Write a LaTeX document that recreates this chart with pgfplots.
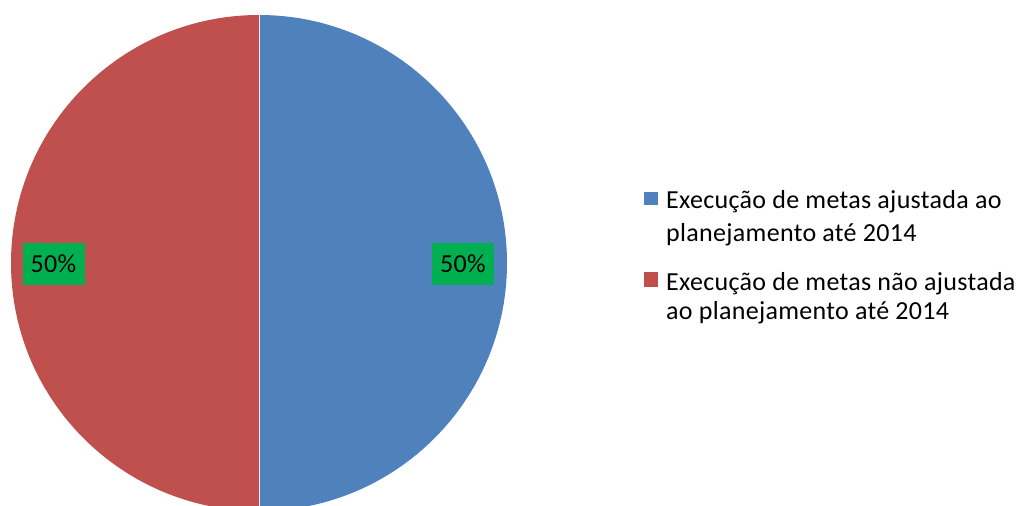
\documentclass[border=0pt]{standalone}
\usepackage{pgfplots}
\usepackage{pgfplotstable}
\pgfplotsset{compat=1.18}
\usepackage{fontspec}
\setmainfont{Carlito}[LetterSpace=1.2]
\definecolor{cblue}{HTML}{4F81BD}
\definecolor{cred}{HTML}{C0504D}
\definecolor{cgreen}{HTML}{00B050}
\pgfplotstableread{
label value
A 50
B 50
}\piedata
\begin{document}
\begin{tikzpicture}
\pgfplotstablegetelem{0}{value}\of\piedata \let\va\pgfplotsretval
\pgfplotstablegetelem{1}{value}\of\piedata \let\vb\pgfplotsretval
\pgfmathsetmacro{\tot}{\va+\vb}
\pgfmathsetmacro{\fa}{\va/\tot}
\pgfmathsetmacro{\fb}{\vb/\tot}
\pgfmathsetmacro{\aA}{90-360*\fa}
\pgfmathsetmacro{\aB}{\aA-360*\fb}
\begin{axis}[scale only axis, width=1021pt, height=506pt,
  xmin=0, xmax=1021, ymin=0, ymax=506, hide axis]
\path (axis cs:0,0) rectangle (axis cs:1021,506);
\fill[cblue] (axis cs:259,243) -- (axis cs:259,491) arc[start angle=90, end angle=\aA, radius=248pt] -- cycle;
\fill[cred] (axis cs:259,243) -- (axis cs:259,-5) arc[start angle=\aA, end angle=\aB, radius=248pt] -- cycle;
\draw[white!85!gray, line width=1pt] (axis cs:259,491) -- (axis cs:259,-5);
\node[fill=cgreen, font=\fontsize{26}{30}\selectfont, inner sep=0pt, minimum width=62pt, minimum height=42pt] at (axis cs:463,242) {\va\%};
\node[fill=cgreen, font=\fontsize{26}{30}\selectfont, inner sep=0pt, minimum width=62pt, minimum height=42pt] at (axis cs:53.5,242) {\vb\%};
\fill[cblue] (axis cs:644,301) rectangle (axis cs:658,314);
\fill[cred] (axis cs:644,219) rectangle (axis cs:658,234);
\begin{scope}[every node/.style={anchor=base west, inner sep=0pt, font=\fontsize{26}{30}\selectfont}]
\node at (axis cs:666,297) {Execução de metas ajustada ao};
\node at (axis cs:666,264) {planejamento até 2014};
\node at (axis cs:666,215) {Execução de metas não ajustada};
\node at (axis cs:666,186) {ao planejamento até 2014};
\end{scope}
\end{axis}
\end{tikzpicture}
\end{document}
